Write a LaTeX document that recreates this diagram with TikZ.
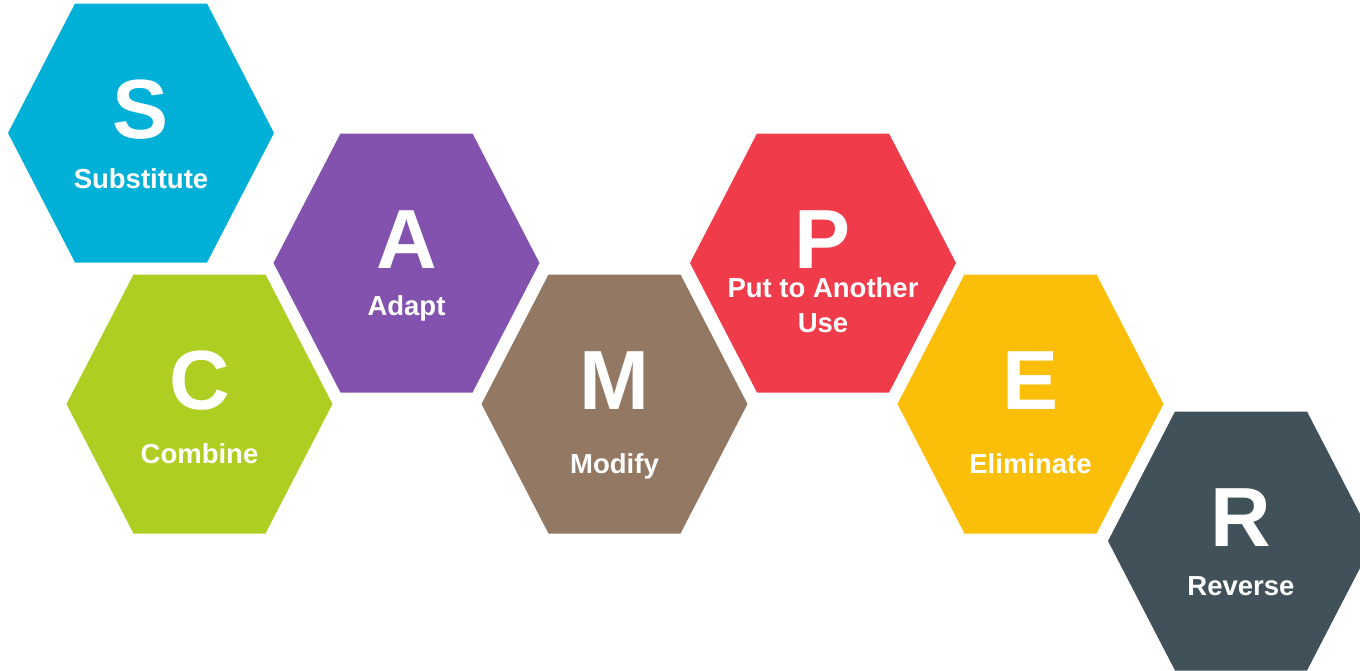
\documentclass[tikz,border=0pt]{standalone}
\usepackage{fontspec}
\setmainfont{Liberation Sans}
\usepackage{tikz}
\usetikzlibrary{calc}
\definecolor{hexS}{RGB}{0,176,214}
\definecolor{hexC}{RGB}{174,206,34}
\definecolor{hexA}{RGB}{130,82,174}
\definecolor{hexM}{RGB}{147,120,99}
\definecolor{hexP}{RGB}{240,59,74}
\definecolor{hexE}{RGB}{251,191,10}
\definecolor{hexR}{RGB}{64,81,90}
\tikzstyle{hexletter}=[text=white, font=\fontsize{84}{84}\selectfont\bfseries, anchor=base, inner sep=0pt]
\tikzstyle{hexlabel}=[text=white, font=\fontsize{27.5}{35}\selectfont\bfseries, anchor=base, align=center, inner sep=0pt]
\newcommand{\hexNbox}[6]{
	\fill[#2] ($#3+(-133,0)$) -- ($#3+(-66,-129.5)$) -- ($#3+(66,-129.5)$) -- ($#3+(133,0)$) -- ($#3+(66,129.5)$) -- ($#3+(-66,129.5)$) -- cycle;
	\node[hexletter] (#1-letter) at ($#3+(0,5)$) {#4};
	\node[hexlabel] (#1-label) at ($#3+(0,#5)$) {#6};
}

\begin{document}
\begin{tikzpicture}[x=1pt, y=-1pt]
	\useasboundingbox (0,0) rectangle (1360,670);
	\clip (0,0) rectangle (1360,670);
%
	\coordinate (S) at (141,133);
	\coordinate (C) at (199.5,404);
	\coordinate (A) at (406.5,263);
	\coordinate (M) at (614.5,404);
	\coordinate (P) at (823,263);
	\coordinate (E) at (1030.5,404);
	\coordinate (R) at (1241,541);
%
	\hexNbox{s}{hexS}{(S)}{S}{55}{Substitute}
	\hexNbox{c}{hexC}{(C)}{C}{59}{Combine}
	\hexNbox{a}{hexA}{(A)}{A}{52}{Adapt}
	\hexNbox{m}{hexM}{(M)}{M}{69}{Modify}
	\hexNbox{p}{hexP}{(P)}{P}{69}{Put to Another\\Use}
	\hexNbox{e}{hexE}{(E)}{E}{69}{Eliminate}
	\hexNbox{r}{hexR}{(R)}{R}{54}{Reverse}
\end{tikzpicture}
\end{document}
